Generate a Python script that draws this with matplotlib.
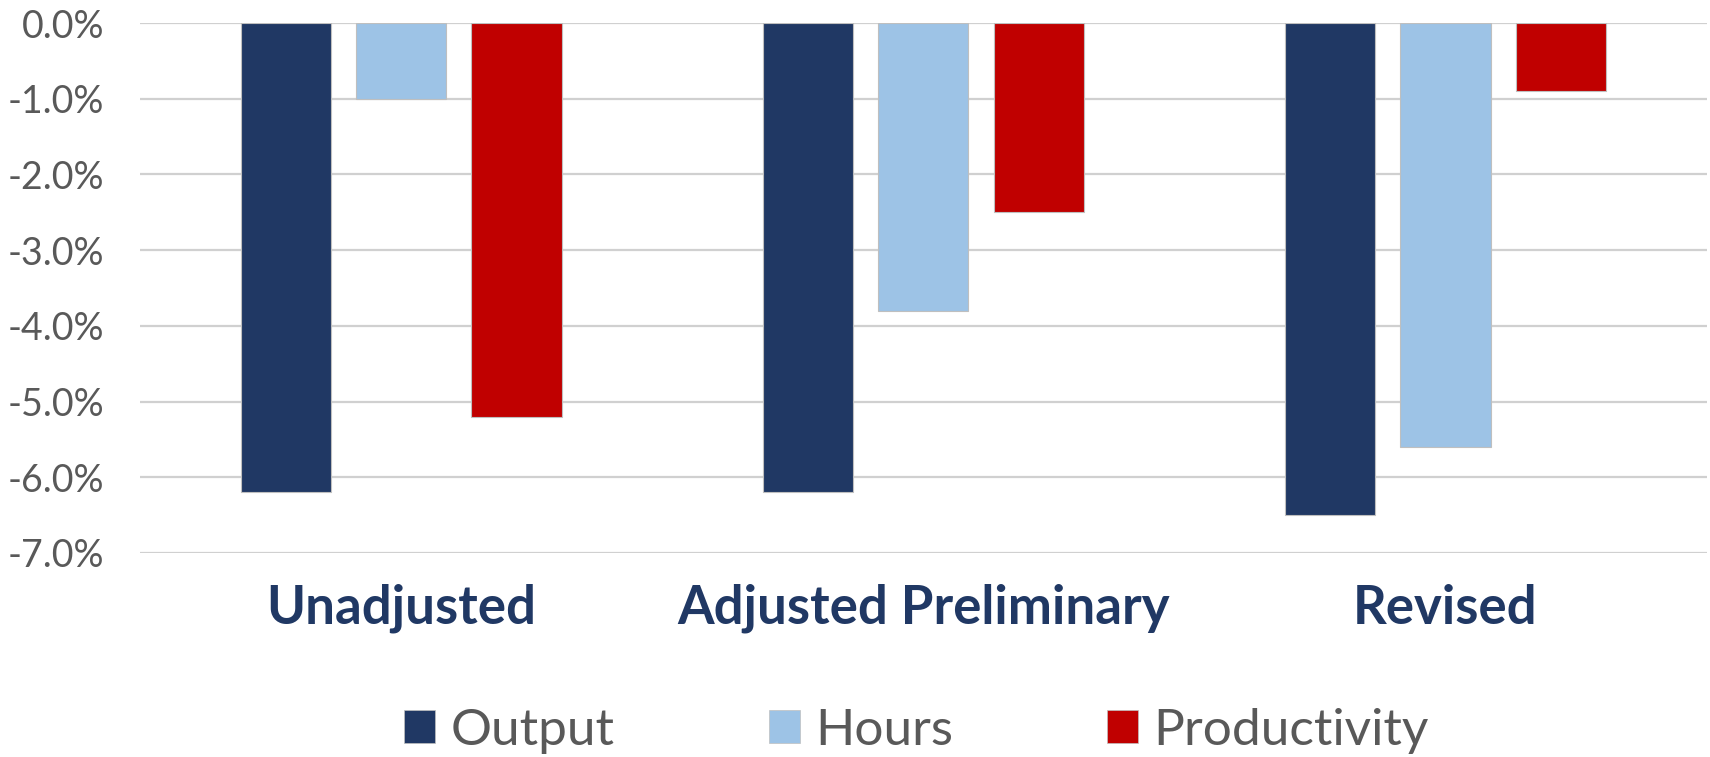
import matplotlib.pyplot as plt
from matplotlib.patches import Patch
from matplotlib.ticker import FuncFormatter
import numpy as np

plt.rcParams['font.family'] = ['Lato', 'DejaVu Sans']

# 数据
categories = ['Unadjusted', 'Adjusted Preliminary', 'Revised']
series_names = ['Output', 'Hours', 'Productivity']
output_vals = [-6.2, -6.2, -6.5]
hours_vals = [-1.0, -3.8, -5.6]
productivity_vals = [-5.2, -2.5, -0.9]

colors = ['#203864', '#9DC3E6', '#C00000']
text_grey = '#595959'

fig = plt.figure(figsize=(17.1, 7.57), dpi=100, facecolor='white')
ax = fig.add_axes([0.0819, 0.2695, 0.9161, 0.7001])

x = np.arange(len(categories))
offset = 0.221
width = 0.173
for i, vals in enumerate([output_vals, hours_vals, productivity_vals]):
    ax.bar(x + (i - 1) * offset, vals, width, color=colors[i],
           edgecolor='#BFBFBF', linewidth=0.8, zorder=3)

ax.set_xlim(-0.5, len(categories) - 0.5)
ax.set_ylim(-7, 0)
ax.set_yticks(np.arange(-7, 0.5, 1))
ax.yaxis.set_major_formatter(FuncFormatter(lambda v, p: f'{v:.1f}%'))
ax.grid(axis='y', color='#D0D0D0', linewidth=1.6, zorder=0)
ax.set_axisbelow(True)

for s in ax.spines.values():
    s.set_visible(False)

ax.tick_params(axis='y', length=0, pad=26, labelsize=27, labelcolor=text_grey)
ax.set_xticks(x)
ax.set_xticklabels(categories, fontsize=38, fontweight='bold', color='#203864')
ax.tick_params(axis='x', length=0, pad=22)

handles = [Patch(facecolor=c, edgecolor='#BFBFBF', linewidth=0.5) for c in colors]
fig.legend(handles, series_names, loc='center', bbox_to_anchor=(0.536, 0.035),
           ncol=3, frameon=False, fontsize=37, labelcolor=text_grey,
           handlelength=0.6, handleheight=0.6, handletextpad=0.3,
           columnspacing=3.0)

fig.savefig('out.png', dpi=100, facecolor='white')
